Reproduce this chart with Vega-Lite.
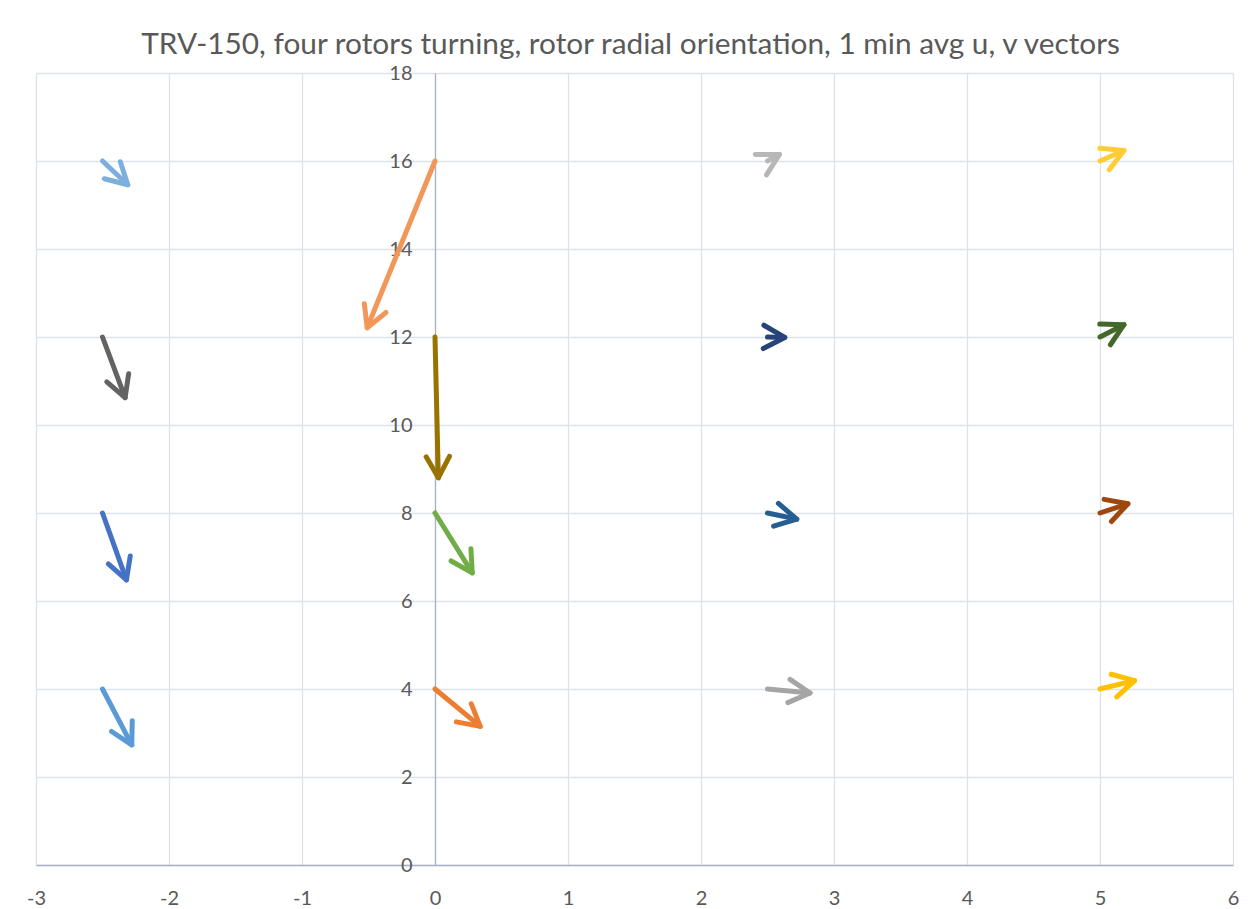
{
  "$schema": "https://vega.github.io/schema/vega-lite/v6.json",
  "width": 1197,
  "height": 792,
  "autosize": {"type": "none"},
  "padding": {"left": 36, "top": 73, "right": 22, "bottom": 44},
  "background": "white",
  "title": {
    "text": "TRV-150, four rotors turning, rotor radial orientation, 1 min avg u, v vectors",
    "font": "Lato",
    "fontSize": 29.8,
    "fontWeight": "normal",
    "color": "#595959",
    "anchor": "middle",
    "frame": "group",
    "dx": -4,
    "offset": 3
  },
  "config": {"view": {"stroke": null}, "font": "Lato"},
  "data": {
    "values": [
      {"id": "A", "x": -2.5, "y": 16, "x2": -2.31, "y2": 15.46},
      {"id": "B", "x": -2.5, "y": 12, "x2": -2.33, "y2": 10.62},
      {"id": "C", "x": -2.5, "y": 8, "x2": -2.32, "y2": 6.48},
      {"id": "D", "x": -2.5, "y": 4, "x2": -2.28, "y2": 2.73},
      {"id": "E", "x": 0, "y": 16, "x2": -0.51, "y2": 12.21},
      {"id": "F", "x": 0, "y": 12, "x2": 0.025, "y2": 8.8},
      {"id": "G", "x": 0, "y": 8, "x2": 0.28, "y2": 6.64},
      {"id": "H", "x": 0, "y": 4, "x2": 0.34, "y2": 3.15},
      {"id": "I", "x": 2.5, "y": 16, "x2": 2.59, "y2": 16.15},
      {"id": "J", "x": 2.5, "y": 12, "x2": 2.63, "y2": 11.99},
      {"id": "K", "x": 2.5, "y": 8, "x2": 2.72, "y2": 7.86},
      {"id": "L", "x": 2.5, "y": 4, "x2": 2.82, "y2": 3.91},
      {"id": "M", "x": 5, "y": 16, "x2": 5.18, "y2": 16.24},
      {"id": "N", "x": 5, "y": 12, "x2": 5.18, "y2": 12.28},
      {"id": "O", "x": 5, "y": 8, "x2": 5.21, "y2": 8.21},
      {"id": "P", "x": 5, "y": 4, "x2": 5.26, "y2": 4.19}
    ]
  },
  "transform": [
    {"calculate": "atan2(-(datum.y2 - datum.y) * 44, (datum.x2 - datum.x) * 133) * 180 / PI", "as": "heading"}
  ],
  "encoding": {
    "color": {
      "field": "id",
      "type": "nominal",
      "legend": null,
      "scale": {
        "domain": ["A", "B", "C", "D", "E", "F", "G", "H", "I", "J", "K", "L", "M", "N", "O", "P"],
        "range": ["#7CAFDD", "#636363", "#4472C4", "#5B9BD5", "#F1975A", "#997300", "#70AD47", "#ED7D31", "#B7B7B7", "#264478", "#255E91", "#A5A5A5", "#FFCD33", "#43682B", "#9E480E", "#FFC000"]
      }
    }
  },
  "layer": [
    {
      "mark": {"type": "rule", "strokeWidth": 5, "strokeCap": "round"},
      "encoding": {
        "x": {
          "field": "x",
          "type": "quantitative",
          "scale": {"domain": [-3, 6], "nice": false, "zero": false},
          "axis": {
            "title": null,
            "orient": "bottom",
            "values": [-3, -2, -1, 0, 1, 2, 3, 4, 5, 6],
            "labelExpr": "'' + datum.value",
            "ticks": false,
            "grid": true,
            "gridColor": "#DDE2E9",
            "gridWidth": 1.3,
            "domainColor": "#A8B3C5",
            "domainWidth": 1.3,
            "labelFont": "Lato",
            "labelFontSize": 20,
            "labelColor": "#595959",
            "labelPadding": 23,
            "labelFlush": false,
            "zindex": 0
          }
        },
        "y": {
          "field": "y",
          "type": "quantitative",
          "scale": {"domain": [0, 18], "nice": false, "zero": false},
          "axis": {
            "title": null,
            "orient": "left",
            "offset": -399,
            "values": [0, 2, 4, 6, 8, 10, 12, 14, 16, 18],
            "labelExpr": "'' + datum.value",
            "ticks": false,
            "grid": true,
            "gridColor": "#DDE2E9",
            "gridWidth": 1.3,
            "domainColor": "#A8B3C5",
            "domainWidth": 1.3,
            "labelFont": "Lato",
            "labelFontSize": 20,
            "labelColor": "#595959",
            "labelPadding": 23,
            "labelFlush": false,
            "zindex": 0
          }
        },
        "x2": {"field": "x2"},
        "y2": {"field": "y2"}
      }
    },
    {
      "mark": {
        "type": "point",
        "shape": "M -1 -0.55 L 0 0 L -1 0.55",
        "filled": false,
        "size": 1800,
        "strokeWidth": 5,
        "strokeCap": "round",
        "strokeJoin": "round",
        "opacity": 1
      },
      "encoding": {
        "x": {"field": "x2", "type": "quantitative"},
        "y": {"field": "y2", "type": "quantitative"},
        "angle": {"field": "heading", "type": "quantitative", "scale": null}
      }
    }
  ]
}
